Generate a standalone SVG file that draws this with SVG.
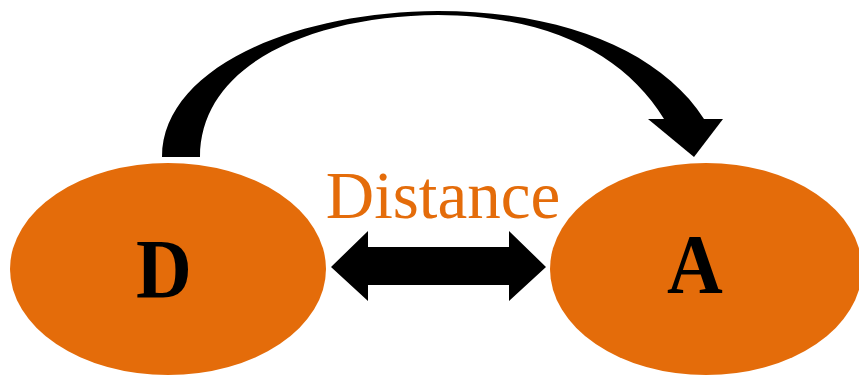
<svg xmlns="http://www.w3.org/2000/svg" width="859" height="376" viewBox="0 0 859 376">
<style>
.node{fill:#E46C0A}
.lbl{font-family:"Liberation Serif","Times New Roman",serif;font-weight:bold;font-size:84px;fill:#000;text-anchor:middle}
.dist{font-family:"Liberation Serif","Times New Roman",serif;font-size:67px;fill:#E46C0A;text-anchor:middle}
.conn{fill:#000}
</style>
<rect width="859" height="376" fill="#fff"/>
<g id="node-D">
<ellipse class="node" cx="168" cy="269" rx="158" ry="106"/>
<text class="lbl" x="164" y="298" transform="translate(164 0) scale(0.92 1) translate(-164 0)">D</text>
</g>
<g id="node-A">
<ellipse class="node" cx="706" cy="269" rx="156" ry="106"/>
<text class="lbl" x="695" y="293" transform="translate(695 0) scale(0.92 1) translate(-695 0)">A</text>
</g>
<g id="connectors">
<path class="conn" d="M162,157 C162,70 290,12 438,11 C560,11 660,50 704,119 L664,119 C625,55 550,16 438,15 C310,16 200,65 200,157 Z"/>
<polygon class="conn" points="648,119 723,119 694,157"/>
<polygon class="conn" points="331,267 368,231 368,247 509,247 509,231 546,267 509,301 509,285 368,285 368,301"/>
</g>
<text class="dist" x="443" y="218">Distance</text>
</svg>
